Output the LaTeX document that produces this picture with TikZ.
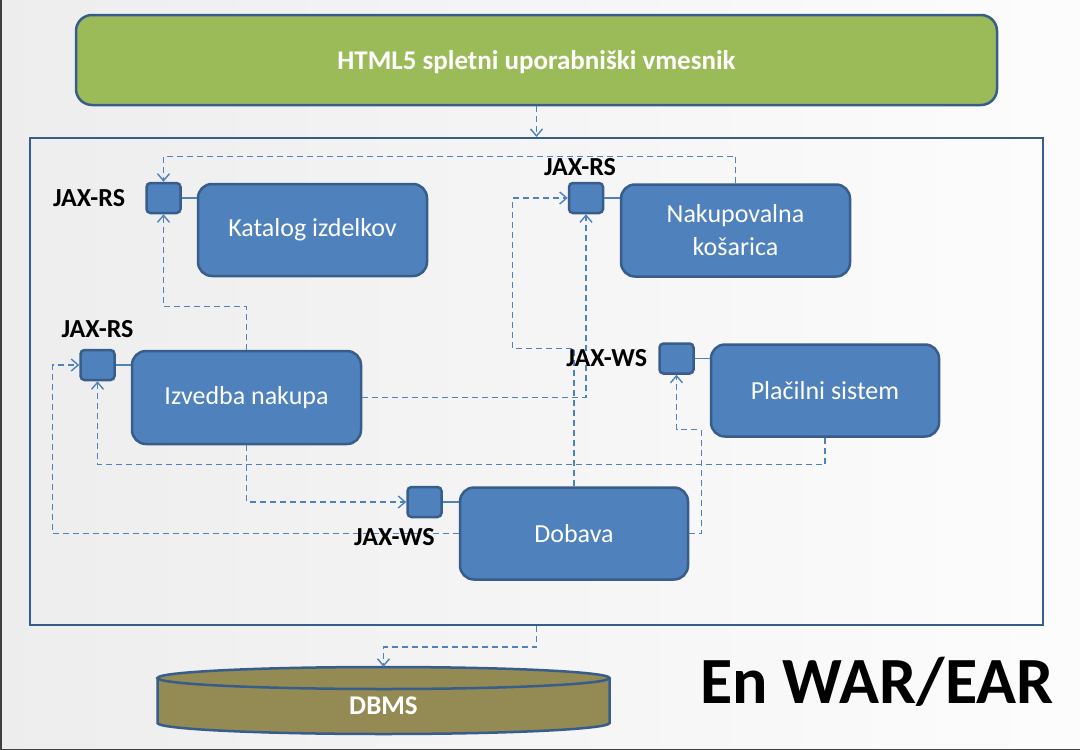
\documentclass[tikz,border=0pt]{standalone}
\usepackage{fontspec}
\setmainfont{Carlito}
\usepackage{tikz}
\usetikzlibrary{positioning,arrows.meta}

\definecolor{boxblue}{HTML}{4F81BD}
\definecolor{edgeblue}{HTML}{385D8A}
\definecolor{uigreen}{HTML}{9BBB59}
\definecolor{dbolive}{HTML}{948A54}

\begin{document}
\begin{tikzpicture}[x=1pt,y=-1pt,
  comp/.style={draw=edgeblue,line width=2.5pt,fill=boxblue,rounded corners=14pt,
    text=white,font=\fontsize{26}{33}\selectfont,align=center,inner sep=0pt},
  port/.style={draw=edgeblue,line width=2.5pt,fill=boxblue,rounded corners=4pt,
    minimum width=34pt,minimum height=30pt,inner sep=0pt},
  dep/.style={draw=boxblue,line width=1.4pt,dash pattern=on 6pt off 4pt,
    -{Straight Barb[length=7pt,width=12pt]}},
  lbl/.style={font=\fontsize{26}{30}\bfseries\selectfont,inner sep=0pt}]
  \pgfmathsetmacro\dbrx{226}   % half width of the database
  \pgfmathsetmacro\dbry{11}    % depth of its ellipses

% slide background
  \useasboundingbox (0,0) rectangle (1080,750);
  \shade[left color=black!7,right color=black!1] (0,0) rectangle (1080,750);
  \draw[black!75,line width=1.5pt] (0.75,0) -- (0.75,749.25) -- (1080,749.25);

% web interface and application frame
  \node[draw=edgeblue,line width=2.5pt,fill=uigreen,rounded corners=16pt,
    minimum width=921pt,minimum height=90pt,text=white,text depth=0pt,
    font=\fontsize{27}{30}\bfseries\selectfont] (html) at (536.5,60) {HTML5 spletni uporabniški vmesnik};
  \node[draw=edgeblue,line width=2pt,minimum width=1013pt,minimum height=487pt] (cont) at (536.5,381.5) {};

% components
  \node[comp,minimum width=229pt,minimum height=92pt] (kat) at (312.5,230) {Katalog izdelkov};
  \node[comp,minimum width=229pt,minimum height=92pt] (nak) at (735.5,230.5) {Nakupovalna\\košarica};
  \node[comp,minimum width=229pt,minimum height=93pt] (izv) at (246.5,397.5) {Izvedba nakupa};
  \node[comp,minimum width=228pt,minimum height=92pt] (pla) at (825,390.5) {Plačilni sistem};
  \node[comp,minimum width=228pt,minimum height=92pt] (dob) at (574,533.5) {Dobava};

% ports
  \node[port] (rs1) at (163.5,198) {};
  \node[port] (rs2) at (586,198) {};
  \node[port] (rs3) at (97.5,365) {};
  \node[port] (ws1) at (676.5,358.5) {};
  \node[port] (ws2) at (424.5,502) {};
  \foreach \p/\c in {rs1/kat,rs2/nak,rs3/izv,ws1/pla,ws2/dob}
    \draw[boxblue,line width=1.3pt] (\p.east) -- (\p.east -| \c.west);

% database
  \fill[dbolive] (157.5,678) -- (157.5,723)
    arc[start angle=180,end angle=360,x radius=\dbrx pt,y radius=\dbry pt] -- (609.5,678) -- cycle;
  \draw[edgeblue,line width=2.5pt] (157.5,678) -- (157.5,723)
    arc[start angle=180,end angle=360,x radius=\dbrx pt,y radius=\dbry pt] -- (609.5,678);
  \draw[edgeblue,line width=2.5pt,fill=dbolive] (383.5,678) ellipse[x radius=\dbrx pt,y radius=\dbry pt];
  \node[minimum width=452pt,minimum height=78pt,inner sep=0pt,text=white,
    font=\fontsize{27}{30}\bfseries\selectfont] (dbms) at (383.5,706) {DBMS};

% dependencies
  \draw[dep] (html.south) -- (cont.north);
  \draw[dep] (cont.south) -- ++(0,21) -| (dbms.north);
  \draw[dep] (nak.north) -- ++(0,-27) -| (rs1.north);
  \draw[dep] (izv.north) -- ++(0,-43) -| (rs1.south);
  \draw[dep] (izv.east) -| (rs2.south);
  \draw[dep] (dob.north) -- ++(0,-138) -| ([xshift=-55pt]rs2.west) -- (rs2.west);
  \draw[dep] (pla.south) -- ++(0,27) -| (rs3.south);
  \draw[dep] (dob.west) -- ++(-406,0) |- (rs3.west);
  \draw[dep] (izv.south) |- (ws2.west);
  \draw[dep] (dob.east) -- ++(12,0) -- ++(0,-104) -| (ws1.south);

% port labels
  \node[lbl,left=20pt of rs1] (l1) {JAX-RS};
  \node[lbl,above=6pt of rs2,xshift=-6pt] (l2) {JAX-RS};
  \node[lbl,above=11pt of rs3] (l3) {JAX-RS};
  \node[lbl,left=11pt of ws1] (l4) {JAX-WS};
  \node[lbl,below=10pt of ws2,xshift=-30pt] (l5) {JAX-WS};

  \node[font=\fontsize{66}{70}\bfseries\selectfont,anchor=base,inner sep=0pt] (war) at (877,703) {En WAR/EAR};
\end{tikzpicture}
\end{document}
